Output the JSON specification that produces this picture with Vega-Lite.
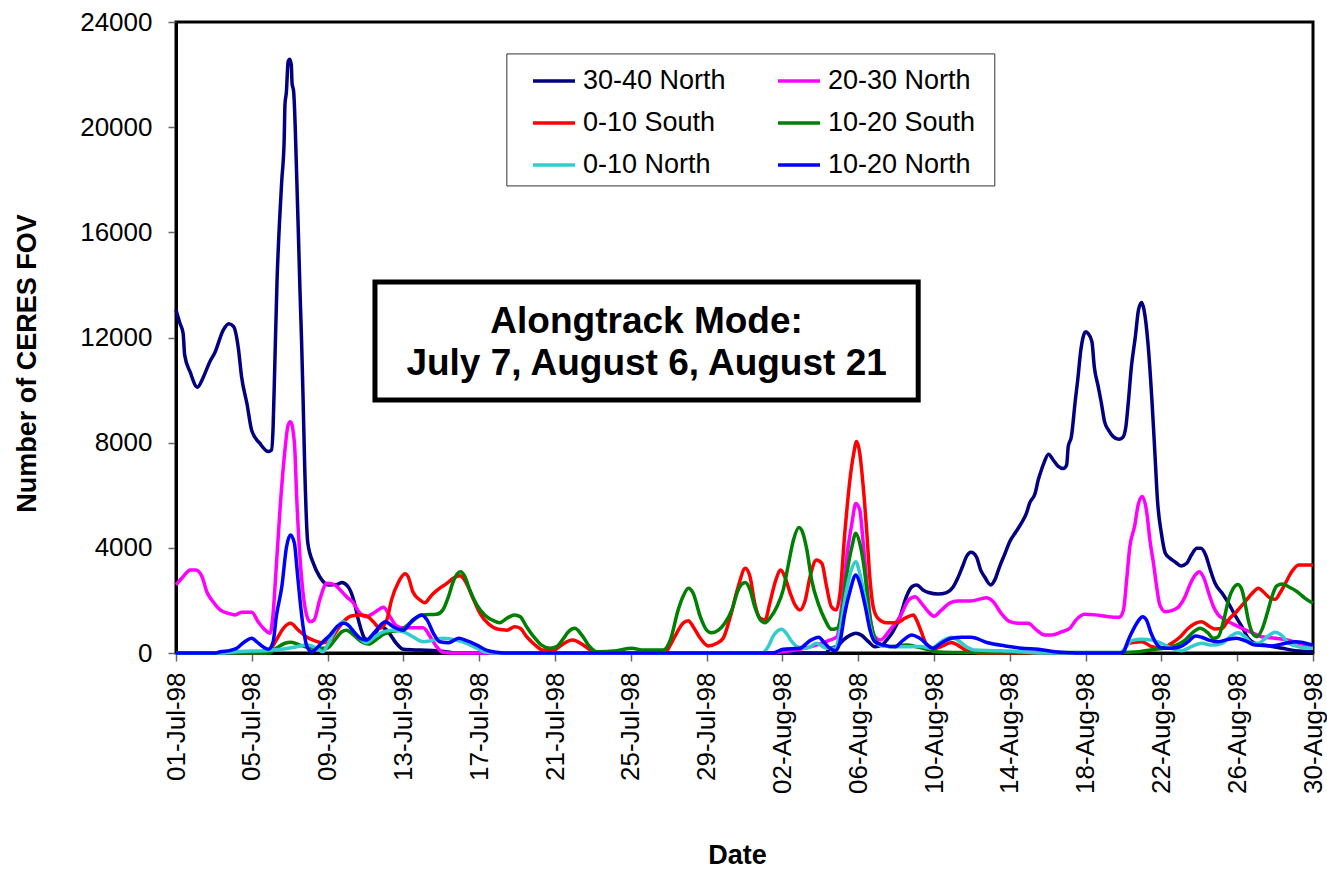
{
"$schema":"https://vega.github.io/schema/vega-lite/v6.json",
"width":1137,"height":631,
"autosize":{"type":"none"},
"padding":{"left":176,"top":22,"right":14,"bottom":216},
"background":"white",
"config":{"font":"Liberation Sans","view":{"stroke":"#000","strokeWidth":3}},
"datasets":{
"n3040":[
{"t":"1998-07-01T00:00","v":13050},{"t":"1998-07-01T05:00","v":12540},{"t":"1998-07-01T09:00","v":12160},{"t":"1998-07-01T11:00","v":11330},{"t":"1998-07-01T18:00","v":10680},{"t":"1998-07-02T03:00","v":10110},{"t":"1998-07-02T11:00","v":10520},{"t":"1998-07-02T19:00","v":11090},{"t":"1998-07-03T01:00","v":11410},{"t":"1998-07-03T12:00","v":12290},{"t":"1998-07-03T19:00","v":12520},{"t":"1998-07-04T01:00","v":12410},{"t":"1998-07-04T07:00","v":11580},{"t":"1998-07-04T11:00","v":10520},{"t":"1998-07-04T18:00","v":9460},{"t":"1998-07-05T00:00","v":8450},{"t":"1998-07-05T10:00","v":7980},{"t":"1998-07-05T21:00","v":7660},{"t":"1998-07-06T01:00","v":7720},{"t":"1998-07-06T03:00","v":8600},{"t":"1998-07-06T05:00","v":10800},{"t":"1998-07-06T08:00","v":14190},{"t":"1998-07-06T11:00","v":16340},{"t":"1998-07-06T14:00","v":17990},{"t":"1998-07-06T17:00","v":19510},{"t":"1998-07-06T18:00","v":20850},{"t":"1998-07-06T20:00","v":21420},{"t":"1998-07-06T21:00","v":22050},{"t":"1998-07-06T22:00","v":22490},{"t":"1998-07-07T00:00","v":22580},{"t":"1998-07-07T02:00","v":22370},{"t":"1998-07-07T03:00","v":21670},{"t":"1998-07-07T05:00","v":21350},{"t":"1998-07-07T07:00","v":20000},{"t":"1998-07-07T08:00","v":19000},{"t":"1998-07-07T11:00","v":15960},{"t":"1998-07-07T13:00","v":13810},{"t":"1998-07-07T15:00","v":11900},{"t":"1998-07-07T17:00","v":9620},{"t":"1998-07-07T19:00","v":7090},{"t":"1998-07-07T23:00","v":4170},{"t":"1998-07-08T06:00","v":3410},{"t":"1998-07-08T14:00","v":2900},{"t":"1998-07-09T01:00","v":2590},{"t":"1998-07-09T12:00","v":2610},{"t":"1998-07-09T18:00","v":2680},{"t":"1998-07-10T02:00","v":2520},{"t":"1998-07-10T09:00","v":2020},{"t":"1998-07-10T15:00","v":1260},{"t":"1998-07-10T23:00","v":560},{"t":"1998-07-11T04:00","v":490},{"t":"1998-07-11T12:00","v":750},{"t":"1998-07-11T20:00","v":1000},{"t":"1998-07-12T03:00","v":870},{"t":"1998-07-12T15:00","v":370},{"t":"1998-07-13T00:00","v":140},{"t":"1998-07-13T21:00","v":110},{"t":"1998-07-14T18:00","v":90},{"t":"1998-07-15T11:00","v":25},{"t":"1998-07-16T00:00","v":0},{"t":"1998-08-04T07:00","v":0},{"t":"1998-08-04T12:00","v":180},{"t":"1998-08-04T21:00","v":240},{"t":"1998-08-05T05:00","v":490},{"t":"1998-08-05T14:00","v":680},{"t":"1998-08-05T21:00","v":750},{"t":"1998-08-06T04:00","v":680},{"t":"1998-08-06T13:00","v":430},{"t":"1998-08-06T21:00","v":240},{"t":"1998-08-07T06:00","v":300},{"t":"1998-08-07T12:00","v":490},{"t":"1998-08-07T20:00","v":810},{"t":"1998-08-08T05:00","v":1380},{"t":"1998-08-08T13:00","v":2140},{"t":"1998-08-08T20:00","v":2520},{"t":"1998-08-09T02:00","v":2590},{"t":"1998-08-09T10:00","v":2400},{"t":"1998-08-09T17:00","v":2300},{"t":"1998-08-10T05:00","v":2240},{"t":"1998-08-10T16:00","v":2300},{"t":"1998-08-11T00:00","v":2500},{"t":"1998-08-11T06:00","v":2840},{"t":"1998-08-11T12:00","v":3280},{"t":"1998-08-11T17:00","v":3660},{"t":"1998-08-11T23:00","v":3830},{"t":"1998-08-12T06:00","v":3640},{"t":"1998-08-12T11:00","v":3160},{"t":"1998-08-12T16:00","v":2900},{"t":"1998-08-13T00:00","v":2590},{"t":"1998-08-13T05:00","v":2780},{"t":"1998-08-13T11:00","v":3280},{"t":"1998-08-13T18:00","v":3790},{"t":"1998-08-14T00:00","v":4240},{"t":"1998-08-14T08:00","v":4620},{"t":"1998-08-14T15:00","v":4960},{"t":"1998-08-14T21:00","v":5310},{"t":"1998-08-15T01:00","v":5690},{"t":"1998-08-15T08:00","v":6070},{"t":"1998-08-15T12:00","v":6580},{"t":"1998-08-15T16:00","v":6960},{"t":"1998-08-15T19:00","v":7210},{"t":"1998-08-16T01:00","v":7560},{"t":"1998-08-16T07:00","v":7340},{"t":"1998-08-16T13:00","v":7110},{"t":"1998-08-16T20:00","v":7020},{"t":"1998-08-17T00:00","v":7150},{"t":"1998-08-17T02:00","v":7850},{"t":"1998-08-17T06:00","v":8230},{"t":"1998-08-17T11:00","v":9620},{"t":"1998-08-17T14:00","v":10380},{"t":"1998-08-17T18:00","v":11530},{"t":"1998-08-17T21:00","v":12030},{"t":"1998-08-18T00:00","v":12220},{"t":"1998-08-18T03:00","v":12160},{"t":"1998-08-18T08:00","v":11840},{"t":"1998-08-18T11:00","v":10890},{"t":"1998-08-18T16:00","v":10130},{"t":"1998-08-18T20:00","v":9500},{"t":"1998-08-19T00:00","v":8800},{"t":"1998-08-19T05:00","v":8480},{"t":"1998-08-19T11:00","v":8230},{"t":"1998-08-19T18:00","v":8130},{"t":"1998-08-19T23:00","v":8200},{"t":"1998-08-20T03:00","v":8610},{"t":"1998-08-20T06:00","v":9500},{"t":"1998-08-20T10:00","v":10890},{"t":"1998-08-20T15:00","v":12030},{"t":"1998-08-20T19:00","v":13050},{"t":"1998-08-20T23:00","v":13330},{"t":"1998-08-21T02:00","v":13050},{"t":"1998-08-21T07:00","v":11780},{"t":"1998-08-21T12:00","v":9620},{"t":"1998-08-21T16:00","v":7470},{"t":"1998-08-21T19:00","v":5820},{"t":"1998-08-22T00:00","v":4550},{"t":"1998-08-22T05:00","v":3790},{"t":"1998-08-22T11:00","v":3600},{"t":"1998-08-22T17:00","v":3470},{"t":"1998-08-23T01:00","v":3310},{"t":"1998-08-23T08:00","v":3410},{"t":"1998-08-23T14:00","v":3730},{"t":"1998-08-23T21:00","v":3980},{"t":"1998-08-24T02:00","v":3980},{"t":"1998-08-24T08:00","v":3730},{"t":"1998-08-24T14:00","v":3160},{"t":"1998-08-24T20:00","v":2650},{"t":"1998-08-25T05:00","v":2270},{"t":"1998-08-25T13:00","v":1890},{"t":"1998-08-25T21:00","v":1450},{"t":"1998-08-26T06:00","v":1000},{"t":"1998-08-26T14:00","v":560},{"t":"1998-08-26T23:00","v":370},{"t":"1998-08-27T16:00","v":270},{"t":"1998-08-28T09:00","v":180},{"t":"1998-08-29T02:00","v":90},{"t":"1998-08-30T00:00","v":50}
],
"n2030":[
{"t":"1998-07-01T00:00","v":2590},{"t":"1998-07-01T09:00","v":2900},{"t":"1998-07-01T18:00","v":3160},{"t":"1998-07-02T01:00","v":3160},{"t":"1998-07-02T09:00","v":2900},{"t":"1998-07-02T15:00","v":2330},{"t":"1998-07-02T23:00","v":1950},{"t":"1998-07-03T08:00","v":1640},{"t":"1998-07-03T18:00","v":1510},{"t":"1998-07-04T03:00","v":1450},{"t":"1998-07-04T11:00","v":1550},{"t":"1998-07-05T00:00","v":1550},{"t":"1998-07-05T08:00","v":1190},{"t":"1998-07-05T17:00","v":870},{"t":"1998-07-05T23:00","v":750},{"t":"1998-07-06T03:00","v":1510},{"t":"1998-07-06T07:00","v":3280},{"t":"1998-07-06T12:00","v":5570},{"t":"1998-07-06T18:00","v":7720},{"t":"1998-07-06T22:00","v":8670},{"t":"1998-07-07T01:00","v":8800},{"t":"1998-07-07T06:00","v":7980},{"t":"1998-07-07T09:00","v":5820},{"t":"1998-07-07T13:00","v":3660},{"t":"1998-07-07T17:00","v":2270},{"t":"1998-07-07T22:00","v":1380},{"t":"1998-07-08T02:00","v":1190},{"t":"1998-07-08T07:00","v":1260},{"t":"1998-07-08T14:00","v":2020},{"t":"1998-07-08T23:00","v":2650},{"t":"1998-07-09T07:00","v":2620},{"t":"1998-07-09T16:00","v":2400},{"t":"1998-07-10T00:00","v":2140},{"t":"1998-07-10T09:00","v":1890},{"t":"1998-07-10T17:00","v":1510},{"t":"1998-07-11T01:00","v":1380},{"t":"1998-07-11T10:00","v":1510},{"t":"1998-07-11T23:00","v":1740},{"t":"1998-07-12T07:00","v":1380},{"t":"1998-07-12T15:00","v":1040},{"t":"1998-07-13T00:00","v":960},{"t":"1998-07-13T08:00","v":960},{"t":"1998-07-14T01:00","v":960},{"t":"1998-07-14T10:00","v":620},{"t":"1998-07-14T18:00","v":240},{"t":"1998-07-15T02:00","v":25},{"t":"1998-07-15T12:00","v":0},{"t":"1998-08-01T12:00","v":0},{"t":"1998-08-02T01:00","v":60},{"t":"1998-08-02T22:00","v":140},{"t":"1998-08-03T19:00","v":300},{"t":"1998-08-04T12:00","v":490},{"t":"1998-08-04T21:00","v":620},{"t":"1998-08-05T03:00","v":1760},{"t":"1998-08-05T09:00","v":3540},{"t":"1998-08-05T16:00","v":4930},{"t":"1998-08-05T21:00","v":5690},{"t":"1998-08-06T02:00","v":5440},{"t":"1998-08-06T06:00","v":4300},{"t":"1998-08-06T11:00","v":2650},{"t":"1998-08-06T15:00","v":1380},{"t":"1998-08-06T21:00","v":620},{"t":"1998-08-07T04:00","v":490},{"t":"1998-08-07T16:00","v":870},{"t":"1998-08-08T05:00","v":1380},{"t":"1998-08-08T16:00","v":2020},{"t":"1998-08-09T00:00","v":2140},{"t":"1998-08-09T08:00","v":1900},{"t":"1998-08-09T16:00","v":1600},{"t":"1998-08-10T00:00","v":1400},{"t":"1998-08-10T09:00","v":1620},{"t":"1998-08-10T20:00","v":1900},{"t":"1998-08-11T06:00","v":1980},{"t":"1998-08-11T23:00","v":1980},{"t":"1998-08-12T10:00","v":2050},{"t":"1998-08-12T18:00","v":2100},{"t":"1998-08-13T03:00","v":1950},{"t":"1998-08-13T13:00","v":1510},{"t":"1998-08-14T00:00","v":1190},{"t":"1998-08-14T11:00","v":1130},{"t":"1998-08-14T23:00","v":1130},{"t":"1998-08-15T10:00","v":870},{"t":"1998-08-15T20:00","v":680},{"t":"1998-08-16T05:00","v":680},{"t":"1998-08-16T18:00","v":810},{"t":"1998-08-17T04:00","v":940},{"t":"1998-08-17T12:00","v":1260},{"t":"1998-08-17T23:00","v":1470},{"t":"1998-08-18T12:00","v":1450},{"t":"1998-08-19T05:00","v":1380},{"t":"1998-08-19T19:00","v":1360},{"t":"1998-08-20T00:00","v":1640},{"t":"1998-08-20T04:00","v":2780},{"t":"1998-08-20T08:00","v":4040},{"t":"1998-08-20T14:00","v":4810},{"t":"1998-08-20T19:00","v":5690},{"t":"1998-08-21T00:00","v":5950},{"t":"1998-08-21T05:00","v":5440},{"t":"1998-08-21T10:00","v":4170},{"t":"1998-08-21T14:00","v":3410},{"t":"1998-08-21T18:00","v":2520},{"t":"1998-08-21T22:00","v":1830},{"t":"1998-08-22T05:00","v":1570},{"t":"1998-08-22T13:00","v":1610},{"t":"1998-08-22T22:00","v":1760},{"t":"1998-08-23T06:00","v":2140},{"t":"1998-08-23T12:00","v":2590},{"t":"1998-08-23T19:00","v":2970},{"t":"1998-08-24T00:00","v":3090},{"t":"1998-08-24T06:00","v":2840},{"t":"1998-08-24T12:00","v":2270},{"t":"1998-08-24T18:00","v":1760},{"t":"1998-08-25T00:00","v":1450},{"t":"1998-08-25T09:00","v":1260},{"t":"1998-08-25T19:00","v":1100},{"t":"1998-08-26T06:00","v":940},{"t":"1998-08-26T19:00","v":770},{"t":"1998-08-27T07:00","v":620},{"t":"1998-08-28T00:00","v":560},{"t":"1998-08-28T17:00","v":490},{"t":"1998-08-29T06:00","v":370},{"t":"1998-08-30T00:00","v":240}
],
"s010":[
{"t":"1998-07-01T00:00","v":0},{"t":"1998-07-05T17:00","v":0},{"t":"1998-07-05T23:00","v":110},{"t":"1998-07-06T07:00","v":490},{"t":"1998-07-06T16:00","v":940},{"t":"1998-07-07T01:00","v":1130},{"t":"1998-07-07T11:00","v":870},{"t":"1998-07-07T22:00","v":600},{"t":"1998-07-08T06:00","v":490},{"t":"1998-07-08T18:00","v":390},{"t":"1998-07-09T03:00","v":490},{"t":"1998-07-09T12:00","v":870},{"t":"1998-07-09T20:00","v":1190},{"t":"1998-07-10T06:00","v":1410},{"t":"1998-07-10T17:00","v":1450},{"t":"1998-07-11T01:00","v":1410},{"t":"1998-07-11T10:00","v":1190},{"t":"1998-07-11T18:00","v":940},{"t":"1998-07-12T03:00","v":1260},{"t":"1998-07-12T09:00","v":2020},{"t":"1998-07-12T18:00","v":2710},{"t":"1998-07-13T02:00","v":3010},{"t":"1998-07-13T06:00","v":2900},{"t":"1998-07-13T12:00","v":2330},{"t":"1998-07-13T21:00","v":2020},{"t":"1998-07-14T03:00","v":1910},{"t":"1998-07-14T12:00","v":2210},{"t":"1998-07-14T20:00","v":2420},{"t":"1998-07-15T07:00","v":2650},{"t":"1998-07-15T15:00","v":2840},{"t":"1998-07-16T00:00","v":2940},{"t":"1998-07-16T04:00","v":2840},{"t":"1998-07-16T10:00","v":2520},{"t":"1998-07-16T17:00","v":2020},{"t":"1998-07-17T01:00","v":1510},{"t":"1998-07-17T12:00","v":1100},{"t":"1998-07-18T00:00","v":900},{"t":"1998-07-18T11:00","v":870},{"t":"1998-07-18T21:00","v":1000},{"t":"1998-07-19T04:00","v":940},{"t":"1998-07-19T12:00","v":620},{"t":"1998-07-19T23:00","v":300},{"t":"1998-07-20T09:00","v":110},{"t":"1998-07-20T22:00","v":110},{"t":"1998-07-21T08:00","v":300},{"t":"1998-07-21T22:00","v":490},{"t":"1998-07-22T12:00","v":300},{"t":"1998-07-23T00:00","v":50},{"t":"1998-07-23T10:00","v":0},{"t":"1998-07-26T19:00","v":0},{"t":"1998-07-27T02:00","v":300},{"t":"1998-07-27T10:00","v":750},{"t":"1998-07-27T18:00","v":1130},{"t":"1998-07-28T01:00","v":1230},{"t":"1998-07-28T07:00","v":1000},{"t":"1998-07-28T16:00","v":560},{"t":"1998-07-29T02:00","v":270},{"t":"1998-07-29T13:00","v":370},{"t":"1998-07-29T21:00","v":560},{"t":"1998-07-30T06:00","v":1380},{"t":"1998-07-30T16:00","v":2520},{"t":"1998-07-31T01:00","v":3220},{"t":"1998-07-31T07:00","v":2900},{"t":"1998-07-31T13:00","v":1890},{"t":"1998-07-31T20:00","v":1320},{"t":"1998-08-01T02:00","v":1260},{"t":"1998-08-01T08:00","v":1890},{"t":"1998-08-01T15:00","v":2710},{"t":"1998-08-01T22:00","v":3160},{"t":"1998-08-02T03:00","v":2900},{"t":"1998-08-02T10:00","v":2270},{"t":"1998-08-02T16:00","v":1830},{"t":"1998-08-02T22:00","v":1640},{"t":"1998-08-03T05:00","v":2020},{"t":"1998-08-03T11:00","v":2900},{"t":"1998-08-03T19:00","v":3540},{"t":"1998-08-04T02:00","v":3410},{"t":"1998-08-04T08:00","v":2520},{"t":"1998-08-04T14:00","v":1760},{"t":"1998-08-04T20:00","v":1640},{"t":"1998-08-05T01:00","v":2270},{"t":"1998-08-05T07:00","v":4550},{"t":"1998-08-05T14:00","v":6710},{"t":"1998-08-05T18:00","v":7530},{"t":"1998-08-05T22:00","v":8040},{"t":"1998-08-06T02:00","v":7600},{"t":"1998-08-06T06:00","v":6450},{"t":"1998-08-06T11:00","v":4550},{"t":"1998-08-06T15:00","v":2780},{"t":"1998-08-06T19:00","v":1760},{"t":"1998-08-07T01:00","v":1320},{"t":"1998-08-07T12:00","v":1150},{"t":"1998-08-08T01:00","v":1150},{"t":"1998-08-08T11:00","v":1320},{"t":"1998-08-08T22:00","v":1450},{"t":"1998-08-09T02:00","v":1250},{"t":"1998-08-09T08:00","v":800},{"t":"1998-08-09T14:00","v":350},{"t":"1998-08-09T23:00","v":160},{"t":"1998-08-10T09:00","v":240},{"t":"1998-08-10T22:00","v":400},{"t":"1998-08-11T06:00","v":300},{"t":"1998-08-11T17:00","v":90},{"t":"1998-08-12T04:00","v":25},{"t":"1998-08-12T12:00","v":0},{"t":"1998-08-19T22:00","v":0},{"t":"1998-08-20T06:00","v":370},{"t":"1998-08-20T23:00","v":430},{"t":"1998-08-21T12:00","v":240},{"t":"1998-08-22T00:00","v":180},{"t":"1998-08-22T13:00","v":370},{"t":"1998-08-23T00:00","v":620},{"t":"1998-08-23T10:00","v":940},{"t":"1998-08-23T19:00","v":1130},{"t":"1998-08-24T03:00","v":1190},{"t":"1998-08-24T12:00","v":1030},{"t":"1998-08-24T20:00","v":910},{"t":"1998-08-25T05:00","v":940},{"t":"1998-08-25T13:00","v":1260},{"t":"1998-08-25T23:00","v":1570},{"t":"1998-08-26T10:00","v":1950},{"t":"1998-08-26T19:00","v":2270},{"t":"1998-08-27T03:00","v":2460},{"t":"1998-08-27T09:00","v":2330},{"t":"1998-08-27T18:00","v":2080},{"t":"1998-08-28T00:00","v":2040},{"t":"1998-08-28T06:00","v":2270},{"t":"1998-08-28T13:00","v":2650},{"t":"1998-08-28T21:00","v":3090},{"t":"1998-08-29T06:00","v":3350},{"t":"1998-08-30T00:00","v":3350}
],
"s1020":[
{"t":"1998-07-01T00:00","v":0},{"t":"1998-07-05T22:00","v":0},{"t":"1998-07-06T07:00","v":180},{"t":"1998-07-06T18:00","v":370},{"t":"1998-07-07T02:00","v":410},{"t":"1998-07-07T13:00","v":300},{"t":"1998-07-07T22:00","v":220},{"t":"1998-07-08T10:00","v":180},{"t":"1998-07-08T23:00","v":180},{"t":"1998-07-09T09:00","v":490},{"t":"1998-07-09T18:00","v":810},{"t":"1998-07-10T00:00","v":870},{"t":"1998-07-10T09:00","v":680},{"t":"1998-07-10T19:00","v":430},{"t":"1998-07-11T04:00","v":340},{"t":"1998-07-11T14:00","v":520},{"t":"1998-07-11T23:00","v":710},{"t":"1998-07-12T07:00","v":810},{"t":"1998-07-12T20:00","v":870},{"t":"1998-07-13T08:00","v":1130},{"t":"1998-07-14T01:00","v":1450},{"t":"1998-07-14T18:00","v":1470},{"t":"1998-07-15T02:00","v":1640},{"t":"1998-07-15T09:00","v":2140},{"t":"1998-07-15T15:00","v":2710},{"t":"1998-07-16T00:00","v":3090},{"t":"1998-07-16T06:00","v":2900},{"t":"1998-07-16T12:00","v":2400},{"t":"1998-07-16T21:00","v":1830},{"t":"1998-07-17T07:00","v":1450},{"t":"1998-07-17T18:00","v":1230},{"t":"1998-07-18T02:00","v":1150},{"t":"1998-07-18T11:00","v":1320},{"t":"1998-07-18T21:00","v":1450},{"t":"1998-07-19T04:00","v":1380},{"t":"1998-07-19T12:00","v":1000},{"t":"1998-07-19T21:00","v":620},{"t":"1998-07-20T07:00","v":300},{"t":"1998-07-20T18:00","v":180},{"t":"1998-07-21T02:00","v":240},{"t":"1998-07-21T11:00","v":560},{"t":"1998-07-21T17:00","v":810},{"t":"1998-07-22T01:00","v":940},{"t":"1998-07-22T10:00","v":680},{"t":"1998-07-22T20:00","v":240},{"t":"1998-07-23T05:00","v":50},{"t":"1998-07-24T06:00","v":90},{"t":"1998-07-25T01:00","v":180},{"t":"1998-07-25T16:00","v":110},{"t":"1998-07-26T17:00","v":110},{"t":"1998-07-27T02:00","v":490},{"t":"1998-07-27T12:00","v":1640},{"t":"1998-07-27T18:00","v":2140},{"t":"1998-07-28T01:00","v":2460},{"t":"1998-07-28T07:00","v":2270},{"t":"1998-07-28T16:00","v":1380},{"t":"1998-07-29T00:00","v":870},{"t":"1998-07-29T06:00","v":770},{"t":"1998-07-29T15:00","v":870},{"t":"1998-07-29T23:00","v":1130},{"t":"1998-07-30T08:00","v":1640},{"t":"1998-07-30T16:00","v":2400},{"t":"1998-07-31T01:00","v":2680},{"t":"1998-07-31T07:00","v":2400},{"t":"1998-07-31T13:00","v":1760},{"t":"1998-07-31T20:00","v":1260},{"t":"1998-08-01T02:00","v":1150},{"t":"1998-08-01T08:00","v":1320},{"t":"1998-08-01T17:00","v":1760},{"t":"1998-08-02T01:00","v":2400},{"t":"1998-08-02T07:00","v":3280},{"t":"1998-08-02T14:00","v":4300},{"t":"1998-08-02T21:00","v":4770},{"t":"1998-08-03T02:00","v":4550},{"t":"1998-08-03T07:00","v":3920},{"t":"1998-08-03T13:00","v":2780},{"t":"1998-08-03T22:00","v":1830},{"t":"1998-08-04T06:00","v":1260},{"t":"1998-08-04T14:00","v":900},{"t":"1998-08-04T21:00","v":940},{"t":"1998-08-05T03:00","v":1510},{"t":"1998-08-05T09:00","v":2900},{"t":"1998-08-05T16:00","v":4040},{"t":"1998-08-05T21:00","v":4550},{"t":"1998-08-06T02:00","v":4170},{"t":"1998-08-06T09:00","v":2900},{"t":"1998-08-06T13:00","v":1760},{"t":"1998-08-06T19:00","v":750},{"t":"1998-08-07T01:00","v":370},{"t":"1998-08-07T16:00","v":240},{"t":"1998-08-08T13:00","v":300},{"t":"1998-08-09T02:00","v":240},{"t":"1998-08-09T10:00","v":180},{"t":"1998-08-09T19:00","v":110},{"t":"1998-08-10T01:00","v":50},{"t":"1998-08-11T00:00","v":20},{"t":"1998-08-20T00:00","v":20},{"t":"1998-08-20T19:00","v":50},{"t":"1998-08-21T16:00","v":140},{"t":"1998-08-22T13:00","v":240},{"t":"1998-08-23T06:00","v":490},{"t":"1998-08-23T17:00","v":810},{"t":"1998-08-24T01:00","v":940},{"t":"1998-08-24T10:00","v":790},{"t":"1998-08-24T18:00","v":560},{"t":"1998-08-25T00:00","v":620},{"t":"1998-08-25T07:00","v":1260},{"t":"1998-08-25T13:00","v":2020},{"t":"1998-08-25T19:00","v":2460},{"t":"1998-08-26T01:00","v":2610},{"t":"1998-08-26T06:00","v":2400},{"t":"1998-08-26T10:00","v":1890},{"t":"1998-08-26T14:00","v":1260},{"t":"1998-08-26T21:00","v":680},{"t":"1998-08-27T01:00","v":620},{"t":"1998-08-27T07:00","v":870},{"t":"1998-08-27T14:00","v":1510},{"t":"1998-08-27T20:00","v":2140},{"t":"1998-08-28T02:00","v":2550},{"t":"1998-08-28T09:00","v":2620},{"t":"1998-08-28T17:00","v":2520},{"t":"1998-08-29T04:00","v":2330},{"t":"1998-08-29T14:00","v":2080},{"t":"1998-08-30T00:00","v":1890}
],
"n010":[
{"t":"1998-07-01T00:00","v":0},{"t":"1998-07-03T12:00","v":0},{"t":"1998-07-04T05:00","v":50},{"t":"1998-07-05T15:00","v":90},{"t":"1998-07-06T14:00","v":140},{"t":"1998-07-07T09:00","v":240},{"t":"1998-07-07T22:00","v":300},{"t":"1998-07-08T10:00","v":180},{"t":"1998-07-08T18:00","v":50},{"t":"1998-07-09T03:00","v":490},{"t":"1998-07-09T12:00","v":1000},{"t":"1998-07-09T20:00","v":1190},{"t":"1998-07-10T04:00","v":1000},{"t":"1998-07-10T15:00","v":620},{"t":"1998-07-11T01:00","v":390},{"t":"1998-07-11T12:00","v":620},{"t":"1998-07-11T23:00","v":810},{"t":"1998-07-12T11:00","v":870},{"t":"1998-07-13T00:00","v":810},{"t":"1998-07-13T12:00","v":620},{"t":"1998-07-14T01:00","v":430},{"t":"1998-07-14T14:00","v":490},{"t":"1998-07-15T02:00","v":560},{"t":"1998-07-15T19:00","v":490},{"t":"1998-07-16T08:00","v":370},{"t":"1998-07-16T21:00","v":180},{"t":"1998-07-17T09:00","v":25},{"t":"1998-07-17T19:00","v":0},{"t":"1998-07-31T22:00","v":0},{"t":"1998-08-01T06:00","v":240},{"t":"1998-08-01T12:00","v":620},{"t":"1998-08-01T23:00","v":900},{"t":"1998-08-02T05:00","v":750},{"t":"1998-08-02T12:00","v":430},{"t":"1998-08-02T20:00","v":220},{"t":"1998-08-03T07:00","v":180},{"t":"1998-08-03T19:00","v":370},{"t":"1998-08-04T08:00","v":180},{"t":"1998-08-04T19:00","v":180},{"t":"1998-08-05T01:00","v":870},{"t":"1998-08-05T07:00","v":2020},{"t":"1998-08-05T14:00","v":3030},{"t":"1998-08-05T21:00","v":3470},{"t":"1998-08-06T02:00","v":3030},{"t":"1998-08-06T09:00","v":2020},{"t":"1998-08-06T15:00","v":1000},{"t":"1998-08-06T21:00","v":430},{"t":"1998-08-07T06:00","v":270},{"t":"1998-08-08T01:00","v":240},{"t":"1998-08-08T18:00","v":240},{"t":"1998-08-09T07:00","v":250},{"t":"1998-08-09T21:00","v":180},{"t":"1998-08-10T09:00","v":430},{"t":"1998-08-10T22:00","v":600},{"t":"1998-08-11T06:00","v":490},{"t":"1998-08-11T17:00","v":240},{"t":"1998-08-12T04:00","v":110},{"t":"1998-08-13T05:00","v":90},{"t":"1998-08-14T15:00","v":50},{"t":"1998-08-15T12:00","v":0},{"t":"1998-08-19T19:00","v":0},{"t":"1998-08-20T02:00","v":180},{"t":"1998-08-20T10:00","v":470},{"t":"1998-08-20T23:00","v":520},{"t":"1998-08-21T12:00","v":490},{"t":"1998-08-22T00:00","v":370},{"t":"1998-08-22T13:00","v":180},{"t":"1998-08-23T02:00","v":90},{"t":"1998-08-23T14:00","v":240},{"t":"1998-08-24T03:00","v":370},{"t":"1998-08-24T16:00","v":300},{"t":"1998-08-25T05:00","v":370},{"t":"1998-08-25T15:00","v":620},{"t":"1998-08-26T01:00","v":770},{"t":"1998-08-26T10:00","v":620},{"t":"1998-08-26T19:00","v":370},{"t":"1998-08-27T03:00","v":370},{"t":"1998-08-27T14:00","v":620},{"t":"1998-08-28T00:00","v":790},{"t":"1998-08-28T09:00","v":650},{"t":"1998-08-28T17:00","v":370},{"t":"1998-08-29T06:00","v":240},{"t":"1998-08-30T00:00","v":180}
],
"n1020":[
{"t":"1998-07-01T00:00","v":0},{"t":"1998-07-03T02:00","v":0},{"t":"1998-07-03T08:00","v":50},{"t":"1998-07-03T20:00","v":90},{"t":"1998-07-04T05:00","v":180},{"t":"1998-07-04T15:00","v":430},{"t":"1998-07-05T00:00","v":560},{"t":"1998-07-05T06:00","v":430},{"t":"1998-07-05T15:00","v":220},{"t":"1998-07-05T21:00","v":140},{"t":"1998-07-06T03:00","v":430},{"t":"1998-07-06T07:00","v":1380},{"t":"1998-07-06T14:00","v":2520},{"t":"1998-07-06T20:00","v":4040},{"t":"1998-07-07T01:00","v":4490},{"t":"1998-07-07T06:00","v":4170},{"t":"1998-07-07T09:00","v":3280},{"t":"1998-07-07T13:00","v":2020},{"t":"1998-07-07T17:00","v":1000},{"t":"1998-07-07T22:00","v":240},{"t":"1998-07-08T04:00","v":50},{"t":"1998-07-08T10:00","v":180},{"t":"1998-07-08T18:00","v":430},{"t":"1998-07-09T03:00","v":680},{"t":"1998-07-09T12:00","v":1000},{"t":"1998-07-09T20:00","v":1130},{"t":"1998-07-10T02:00","v":1060},{"t":"1998-07-10T09:00","v":810},{"t":"1998-07-10T17:00","v":560},{"t":"1998-07-11T01:00","v":490},{"t":"1998-07-11T12:00","v":810},{"t":"1998-07-12T01:00","v":1190},{"t":"1998-07-12T11:00","v":1000},{"t":"1998-07-13T00:00","v":870},{"t":"1998-07-13T12:00","v":1260},{"t":"1998-07-13T23:00","v":1450},{"t":"1998-07-14T06:00","v":1260},{"t":"1998-07-14T14:00","v":750},{"t":"1998-07-14T22:00","v":430},{"t":"1998-07-15T09:00","v":390},{"t":"1998-07-15T22:00","v":560},{"t":"1998-07-16T08:00","v":470},{"t":"1998-07-16T21:00","v":300},{"t":"1998-07-17T09:00","v":110},{"t":"1998-07-17T22:00","v":25},{"t":"1998-07-18T07:00","v":0},{"t":"1998-08-01T12:00","v":0},{"t":"1998-08-02T01:00","v":140},{"t":"1998-08-02T22:00","v":180},{"t":"1998-08-03T11:00","v":470},{"t":"1998-08-03T22:00","v":600},{"t":"1998-08-04T04:00","v":430},{"t":"1998-08-04T12:00","v":180},{"t":"1998-08-04T19:00","v":90},{"t":"1998-08-05T01:00","v":430},{"t":"1998-08-05T07:00","v":1510},{"t":"1998-08-05T14:00","v":2400},{"t":"1998-08-05T21:00","v":2970},{"t":"1998-08-06T02:00","v":2650},{"t":"1998-08-06T09:00","v":1760},{"t":"1998-08-06T15:00","v":870},{"t":"1998-08-06T21:00","v":430},{"t":"1998-08-07T08:00","v":300},{"t":"1998-08-07T23:00","v":240},{"t":"1998-08-08T09:00","v":490},{"t":"1998-08-08T20:00","v":680},{"t":"1998-08-09T06:00","v":560},{"t":"1998-08-09T23:00","v":180},{"t":"1998-08-10T09:00","v":370},{"t":"1998-08-10T22:00","v":560},{"t":"1998-08-11T11:00","v":600},{"t":"1998-08-11T23:00","v":600},{"t":"1998-08-12T20:00","v":390},{"t":"1998-08-13T18:00","v":270},{"t":"1998-08-14T15:00","v":180},{"t":"1998-08-15T12:00","v":140},{"t":"1998-08-16T09:00","v":50},{"t":"1998-08-17T06:00","v":10},{"t":"1998-08-17T14:00","v":0},{"t":"1998-08-19T19:00","v":0},{"t":"1998-08-20T00:00","v":50},{"t":"1998-08-20T06:00","v":490},{"t":"1998-08-20T12:00","v":870},{"t":"1998-08-20T19:00","v":1230},{"t":"1998-08-21T00:00","v":1380},{"t":"1998-08-21T05:00","v":1260},{"t":"1998-08-21T11:00","v":750},{"t":"1998-08-21T16:00","v":430},{"t":"1998-08-22T00:00","v":200},{"t":"1998-08-22T13:00","v":180},{"t":"1998-08-23T00:00","v":240},{"t":"1998-08-23T10:00","v":430},{"t":"1998-08-23T19:00","v":650},{"t":"1998-08-24T03:00","v":600},{"t":"1998-08-24T12:00","v":490},{"t":"1998-08-25T00:00","v":430},{"t":"1998-08-25T13:00","v":520},{"t":"1998-08-25T23:00","v":560},{"t":"1998-08-26T10:00","v":470},{"t":"1998-08-26T23:00","v":300},{"t":"1998-08-27T20:00","v":270},{"t":"1998-08-28T13:00","v":370},{"t":"1998-08-29T02:00","v":430},{"t":"1998-08-30T00:00","v":300}
],
"one":[{"k":1}]
},
"layer":[
{"data":{"name":"n3040"},"mark":{"type":"line","strokeWidth":3.5,"interpolate":"monotone"},
 "encoding":{
  "x":{"field":"t","type":"temporal",
   "scale":{"domain":[{"year":1998,"month":7,"date":1},{"year":1998,"month":8,"date":30}],"nice":false},
   "axis":{"values":[{"year":1998,"month":7,"date":1},{"year":1998,"month":7,"date":5},{"year":1998,"month":7,"date":9},{"year":1998,"month":7,"date":13},{"year":1998,"month":7,"date":17},{"year":1998,"month":7,"date":21},{"year":1998,"month":7,"date":25},{"year":1998,"month":7,"date":29},{"year":1998,"month":8,"date":2},{"year":1998,"month":8,"date":6},{"year":1998,"month":8,"date":10},{"year":1998,"month":8,"date":14},{"year":1998,"month":8,"date":18},{"year":1998,"month":8,"date":22},{"year":1998,"month":8,"date":26},{"year":1998,"month":8,"date":30}],
    "format":"%d-%b-%y","labelAngle":-90,"labelFontSize":26,"labelColor":"#000","labelPadding":11,"labelFlush":false,"labelOverlap":false,"labelBound":false,
    "tickSize":8,"tickColor":"#666","tickWidth":1.5,"domainColor":"#000","domainWidth":3,"grid":false,
    "title":"Date","titleFontSize":27,"titleFontWeight":"bold","titleColor":"#000","titleX":561,"titleY":210,"titleBaseline":"alphabetic","titleAlign":"center","titleAnchor":null}},
  "y":{"field":"v","type":"quantitative",
   "scale":{"domain":[0,24000],"nice":false},
   "axis":{"values":[0,4000,8000,12000,16000,20000,24000],"format":"d","labelFontSize":26,"labelColor":"#000","labelPadding":16,
    "tickSize":8,"tickColor":"#666","tickWidth":1.5,"domainColor":"#000","domainWidth":3,"grid":false,
    "title":"Number of CERES FOV","titleFontSize":27,"titleFontWeight":"bold","titleColor":"#000","titleX":-149,"titleY":341,"titleAngle":-90,"titleBaseline":"middle","titleAlign":"center","titleAnchor":null}},
  "color":{"datum":"30-40 North","type":"nominal",
   "scale":{"domain":["30-40 North","20-30 North","0-10 South","10-20 South","0-10 North","10-20 North"],"range":["#000080","#FF00FF","#FF0000","#008000","#33CCCC","#0000FF"]},
   "legend":{"title":null,"orient":"none","legendX":355,"legendY":36,"columns":2,"direction":"horizontal","symbolType":"stroke","symbolSize":1764,"symbolStrokeWidth":3.5,"labelFontSize":27,"labelColor":"#000","labelOffset":6,"columnPadding":45,"rowPadding":6,"padding":0,"labelLimit":0}}
 }},
{"data":{"name":"n2030"},"mark":{"type":"line","strokeWidth":3.5,"interpolate":"monotone"},
 "encoding":{"x":{"field":"t","type":"temporal"},"y":{"field":"v","type":"quantitative"},"color":{"datum":"20-30 North","type":"nominal"}}},
{"data":{"name":"s010"},"mark":{"type":"line","strokeWidth":3.5,"interpolate":"monotone"},
 "encoding":{"x":{"field":"t","type":"temporal"},"y":{"field":"v","type":"quantitative"},"color":{"datum":"0-10 South","type":"nominal"}}},
{"data":{"name":"s1020"},"mark":{"type":"line","strokeWidth":3.5,"interpolate":"monotone"},
 "encoding":{"x":{"field":"t","type":"temporal"},"y":{"field":"v","type":"quantitative"},"color":{"datum":"10-20 South","type":"nominal"}}},
{"data":{"name":"n010"},"mark":{"type":"line","strokeWidth":3.5,"interpolate":"monotone"},
 "encoding":{"x":{"field":"t","type":"temporal"},"y":{"field":"v","type":"quantitative"},"color":{"datum":"0-10 North","type":"nominal"}}},
{"data":{"name":"n1020"},"mark":{"type":"line","strokeWidth":3.5,"interpolate":"monotone"},
 "encoding":{"x":{"field":"t","type":"temporal"},"y":{"field":"v","type":"quantitative"},"color":{"datum":"10-20 North","type":"nominal"}}},
{"data":{"name":"one"},"mark":{"type":"rect","fill":"white","stroke":"#333","strokeWidth":1},
 "encoding":{"x":{"datum":{"year":1998,"month":7,"date":18,"hours":11},"type":"temporal"},"x2":{"datum":{"year":1998,"month":8,"date":13,"hours":5}},
  "y":{"datum":22786,"type":"quantitative"},"y2":{"datum":17765}}},
{"data":{"name":"one"},"mark":{"type":"rect","fill":"white","stroke":"#000","strokeWidth":5},
 "encoding":{"x":{"datum":{"year":1998,"month":7,"date":11,"hours":12},"type":"temporal"},"x2":{"datum":{"year":1998,"month":8,"date":9,"hours":4}},
  "y":{"datum":14113,"type":"quantitative"},"y2":{"datum":9624}}},
{"data":{"name":"one"},"mark":{"type":"text","fontSize":37,"fontWeight":"bold","color":"#000","align":"center","baseline":"alphabetic","lineHeight":42,"font":"Liberation Sans"},
 "encoding":{"x":{"datum":{"year":1998,"month":7,"date":25,"hours":20},"type":"temporal"},"y":{"datum":12173,"type":"quantitative"},
  "text":{"value":["Alongtrack Mode:","July 7, August 6, August 21"]}}}
]
}
